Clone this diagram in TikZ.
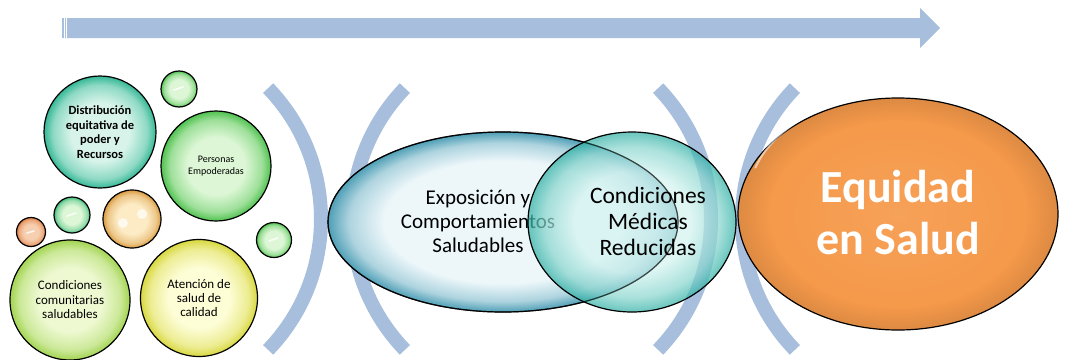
\documentclass[tikz,border=0pt]{standalone}
\usepackage{fontspec}
\setmainfont{Carlito}
\usetikzlibrary{shapes.geometric}
\definecolor{bracketblue}{HTML}{A7BFDD}
\definecolor{tealO}{HTML}{34B896}
\definecolor{tealI}{HTML}{D8F4EA}
\definecolor{greenO}{HTML}{4FC24F}
\definecolor{greenI}{HTML}{DDF7D6}
\definecolor{sgreenO}{HTML}{3DBB7A}
\definecolor{tanO}{HTML}{DA9A40}
\definecolor{tanI}{HTML}{FCEBC4}
\definecolor{orgO}{HTML}{DE7A40}
\definecolor{orgI}{HTML}{F6CFB0}
\definecolor{lgreenO}{HTML}{A2D452}
\definecolor{lgreenI}{HTML}{EEF9D2}
\definecolor{yelO}{HTML}{D8D840}
\definecolor{yelI}{HTML}{FDFDD6}
\definecolor{expO}{HTML}{4F9FB6}
\definecolor{expI}{HTML}{EDF7FA}
\definecolor{condO}{HTML}{2FB0A5}
\definecolor{condI}{HTML}{D2F3EF}
\definecolor{equidad}{HTML}{F5994A}
\newcommand{\mkglossy}[3]{\pgfdeclareradialshading{#1}{\pgfpoint{0bp}{0bp}}{color(0bp)=(#2); color(13bp)=(#2); color(21bp)=(#2!55!#3); color(25bp)=(#3); color(50bp)=(#3)}}
\mkglossy{gteal}{tealI}{tealO}
\mkglossy{ggreen}{greenI}{greenO}
\mkglossy{gsgreen}{greenI}{sgreenO}
\mkglossy{gtan}{tanI}{tanO}
\mkglossy{gorg}{orgI}{orgO}
\mkglossy{glgreen}{lgreenI}{lgreenO}
\mkglossy{gyel}{yelI}{yelO}
\pgfdeclareradialshading{gexp}{\pgfpoint{0bp}{0bp}}{color(0bp)=(expI); color(17bp)=(expI); color(22bp)=(expI!60!expO); color(25bp)=(expO); color(50bp)=(expO)}
\pgfdeclareradialshading{gcond}{\pgfpoint{0bp}{0bp}}{color(0bp)=(condI); color(14bp)=(condI); color(21bp)=(condI!55!condO); color(25bp)=(condO); color(50bp)=(condO)}
\pgfdeclareradialshading{gequi}{\pgfpoint{0bp}{0bp}}{color(0bp)=(equidad!92!white); color(20bp)=(equidad); color(25bp)=(equidad!90!black); color(50bp)=(equidad!90!black)}
\tikzset{
  bubble/.style={circle, draw=black, line width=1.2pt, inner sep=0pt, align=center, text=black},
  bracket/.style={draw=bracketblue, line width=14pt, line cap=butt},
  bigoval/.style={ellipse, draw=black, line width=1.2pt, inner sep=0pt},
  ovaltext/.style={align=center, text=black, inner sep=0pt},
  gloss/.style={white, line width=1.6pt, line cap=round, opacity=0.8},
}
\begin{document}
\begin{tikzpicture}[x=1pt,y=-1pt]
\useasboundingbox (0,0) rectangle (1067,359);
% top arrow
\fill[bracketblue] (62,18) -- (920,18) -- (920,8) -- (940,28) -- (920,48) -- (920,38) -- (62,38) -- cycle;
\draw[white, line width=0.6pt] (64,18) -- (64,38);
\draw[white, line width=0.6pt] (66.5,18) -- (66.5,38);
% brackets
\coordinate (b1) at (132.6,219);
\coordinate (b2) at (540.4,219);
\coordinate (b3) at (522.6,219);
\coordinate (b4) at (930.4,219);
\draw[bracket] (b1) ++(-44:188.4) arc[start angle=-44, end angle=44, radius=188.4];
\draw[bracket] (b2) ++(136:188.4) arc[start angle=136, end angle=224, radius=188.4];
\draw[bracket] (b3) ++(-44:188.4) arc[start angle=-44, end angle=44, radius=188.4];
\draw[bracket] (b4) ++(136:188.4) arc[start angle=136, end angle=224, radius=188.4];
% bubbles
\node[bubble, minimum size=112pt, shading=gteal,
  font=\bfseries\fontsize{12.5}{14.5}\selectfont] (dist) at (100,132)
  {Distribución\\equitativa de\\poder y\\Recursos};
\node[bubble, minimum size=36pt, shading=ggreen] (s1) at (179,89) {};
\node[bubble, minimum size=110pt, shading=ggreen,
  font=\fontsize{10}{12}\selectfont] (pers) at (216,166) {Personas\\Empoderadas};
\node[bubble, minimum size=36pt, shading=gsgreen] (s2) at (72,215) {};
\node[bubble, minimum size=58pt, shading=gtan] (s3) at (132,219) {};
\node[bubble, minimum size=29pt, shading=gorg] (s4) at (31,232) {};
\node[bubble, minimum size=35pt, shading=ggreen] (s5) at (274,240) {};
\node[bubble, minimum size=120pt, shading=glgreen,
  font=\fontsize{13}{14.5}\selectfont] (comu) at (70,300)
  {Condiciones\\comunitarias\\saludables};
\node[bubble, minimum size=117pt, shading=gyel,
  font=\fontsize{13}{14}\selectfont] (aten) at (199,298)
  {Atención de\\salud de\\calidad};
% gloss streaks on small bubbles
\draw[gloss] ([xshift=-5pt,yshift=-1pt]s1.center) -- ([xshift=4pt,yshift=2pt]s1.center);
\draw[gloss] ([xshift=-5pt,yshift=-1pt]s2.center) -- ([xshift=4pt,yshift=2pt]s2.center);
\draw[gloss] ([xshift=-4pt,yshift=-1pt]s4.center) -- ([xshift=3pt,yshift=1pt]s4.center);
\draw[gloss] ([xshift=-5pt,yshift=-1pt]s5.center) -- ([xshift=4pt,yshift=2pt]s5.center);
\fill[white, opacity=0.7] ([xshift=-9pt,yshift=-4pt]s3.center) circle[radius=5];
\fill[white, opacity=0.7] ([xshift=10pt,yshift=5pt]s3.center) circle[radius=5];
% ellipses
\node[bigoval, minimum width=350pt, minimum height=180pt, shading=gexp] (expo) at (503,222) {};
\node[ovaltext, font=\fontsize{21}{24}\selectfont] (expot) at (478,221)
  {Exposición y\\Comportamientos\\Saludables};
\node[bigoval, minimum width=208pt, minimum height=180pt, shading=gcond, fill opacity=0.72] (cond) at (632,222) {};
\draw[black, line width=1.2pt, opacity=0.6] (expo.center) ellipse[x radius=175, y radius=90];
\node[ovaltext, font=\fontsize{23.5}{26}\selectfont] (condt) at (648,221)
  {Condiciones\\Médicas\\Reducidas};
\node[bigoval, minimum width=320pt, minimum height=232pt, shading=gequi] (equi) at (898,214) {};
\draw[white, line width=2pt, opacity=0.55, line cap=round] (equi.center) ++(198:150) arc[start angle=198, end angle=236, x radius=150, y radius=106];
\node[ovaltext, text=white, font=\bfseries\fontsize{46}{52}\selectfont] (equit) at (898,213)
  {Equidad\\en Salud};
\end{tikzpicture}
\end{document}
